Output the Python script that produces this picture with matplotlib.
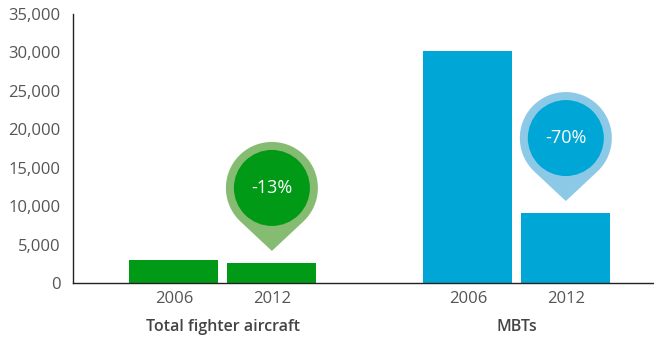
import numpy as np
import matplotlib.pyplot as plt
from matplotlib.path import Path
from matplotlib.patches import PathPatch, Circle
from matplotlib.transforms import Affine2D, ScaledTranslation

plt.rcParams['font.family'] = ['Open Sans', 'DejaVu Sans']

# data
categories = ["Total fighter aircraft", "MBTs"]
years = ["2006", "2012"]
fighters = [3000, 2610]
mbts = [30200, 9100]
changes = ["-13%", "-70%"]
yticks = [0, 5000, 10000, 15000, 20000, 25000, 30000, 35000]

dark = ["#009a17", "#00a6d6"]
light = ["#86bb72", "#8cc9e7"]
grey = "#555555"

fig = plt.figure(figsize=(6.54, 3.37), dpi=100)
ax = fig.add_axes([73/654, (337-283)/337, (654-73)/654, (283-14)/337])

pos = [[0, 1], [3, 4]]
vals = [fighters, mbts]
for i in range(2):
    ax.bar(pos[i], vals[i], width=0.91, color=dark[i], zorder=2)

ax.set_xlim(-1.03, 4.9)
ax.set_ylim(0, 35000)
ax.set_yticks(yticks)
ax.set_yticklabels([f"{v:,}" for v in yticks], fontsize=12, color=grey)
ax.set_xticks(pos[0] + pos[1])
ax.set_xticklabels(years * 2, fontsize=12, color=grey)
ax.tick_params(length=0)
ax.tick_params(axis='y', pad=9)
ax.tick_params(axis='x', pad=6)
for s in ["top", "right"]:
    ax.spines[s].set_visible(False)
for s in ["left", "bottom"]:
    ax.spines[s].set_color("#222222")
    ax.spines[s].set_linewidth(1)

for i in range(2):
    ax.text(np.mean(pos[i]), -0.133, categories[i], transform=ax.get_xaxis_transform(),
            ha="center", va="top", fontsize=11.5, fontweight="semibold", color="#444444")

# pin markers above the 2012 bars (offsets in pixels)
R, r, h, gap = 46, 38, 63, 12
phi = np.arccos(R / h)
angles = np.linspace(-np.pi/2 + phi, 3*np.pi/2 - phi, 80)
verts = [(0, 0)] + [(R*np.cos(a), h + R*np.sin(a)) for a in angles] + [(0, 0)]
pin = Path(verts)
for i in range(2):
    x, y = pos[i][1], vals[i][1]
    tr = Affine2D().translate(0, gap) + ScaledTranslation(x, y, ax.transData)
    ax.add_patch(PathPatch(pin, facecolor=light[i], edgecolor="none", transform=tr, zorder=3))
    ax.add_patch(Circle((0, h), r, facecolor=dark[i], edgecolor="none", transform=tr, zorder=4))
    ax.annotate(changes[i], (x, y), xytext=(0, (gap + h) * 0.72), textcoords="offset points",
                ha="center", va="center", fontsize=13, color="white", zorder=5)

fig.savefig("out.png", dpi=100)
